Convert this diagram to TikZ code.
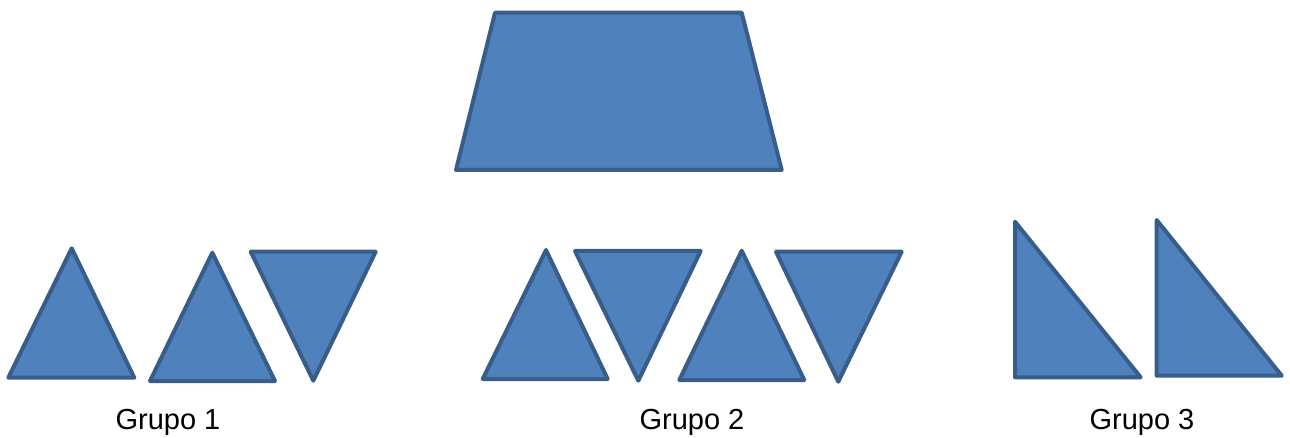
\documentclass[tikz,border=0pt]{standalone}
\usepackage{fontspec}
\setmainfont{Liberation Sans}
\definecolor{shapefill}{HTML}{4F81BD}
\definecolor{shapeline}{HTML}{385D8A}
\begin{document}
\begin{tikzpicture}[x=1pt,y=-1pt,
  piece/.style={fill=shapefill,draw=shapeline,line width=4pt,line join=round},
  grplabel/.style={font=\fontsize{29}{33}\selectfont,anchor=base,inner sep=0pt}]
\useasboundingbox (0,0) rectangle (1290,438);
% trapezoid
\draw[piece] (495,12.7) -- (741.7,12.7) -- (781.7,170) -- (456,170) -- cycle;
% Grupo 1
\draw[piece] (71.7,248.3) -- (134.3,377.7) -- (8.3,377.7) -- cycle;
\draw[piece] (212.3,252.7) -- (275,381) -- (150,381) -- cycle;
\draw[piece] (250.7,251.7) -- (375.7,251.7) -- (313.3,380.7) -- cycle;
% Grupo 2
\draw[piece] (546,250) -- (607.7,379) -- (482.7,379) -- cycle;
\draw[piece] (575,251) -- (700.7,251) -- (638.3,380.7) -- cycle;
\draw[piece] (741.7,250.7) -- (804.3,380) -- (679.3,380) -- cycle;
\draw[piece] (776,251.7) -- (901.7,251.7) -- (838.3,381.7) -- cycle;
% Grupo 3
\draw[piece] (1015,221.7) -- (1140.7,377.3) -- (1015,377.3) -- cycle;
\draw[piece] (1156.7,220) -- (1281.7,375.7) -- (1156.7,375.7) -- cycle;
% labels
\node[grplabel] (g1) at (168,429.5) {Grupo 1};
\node[grplabel] (g2) at (692,429.5) {Grupo 2};
\node[grplabel] (g3) at (1142,429.5) {Grupo 3};
\end{tikzpicture}
\end{document}
